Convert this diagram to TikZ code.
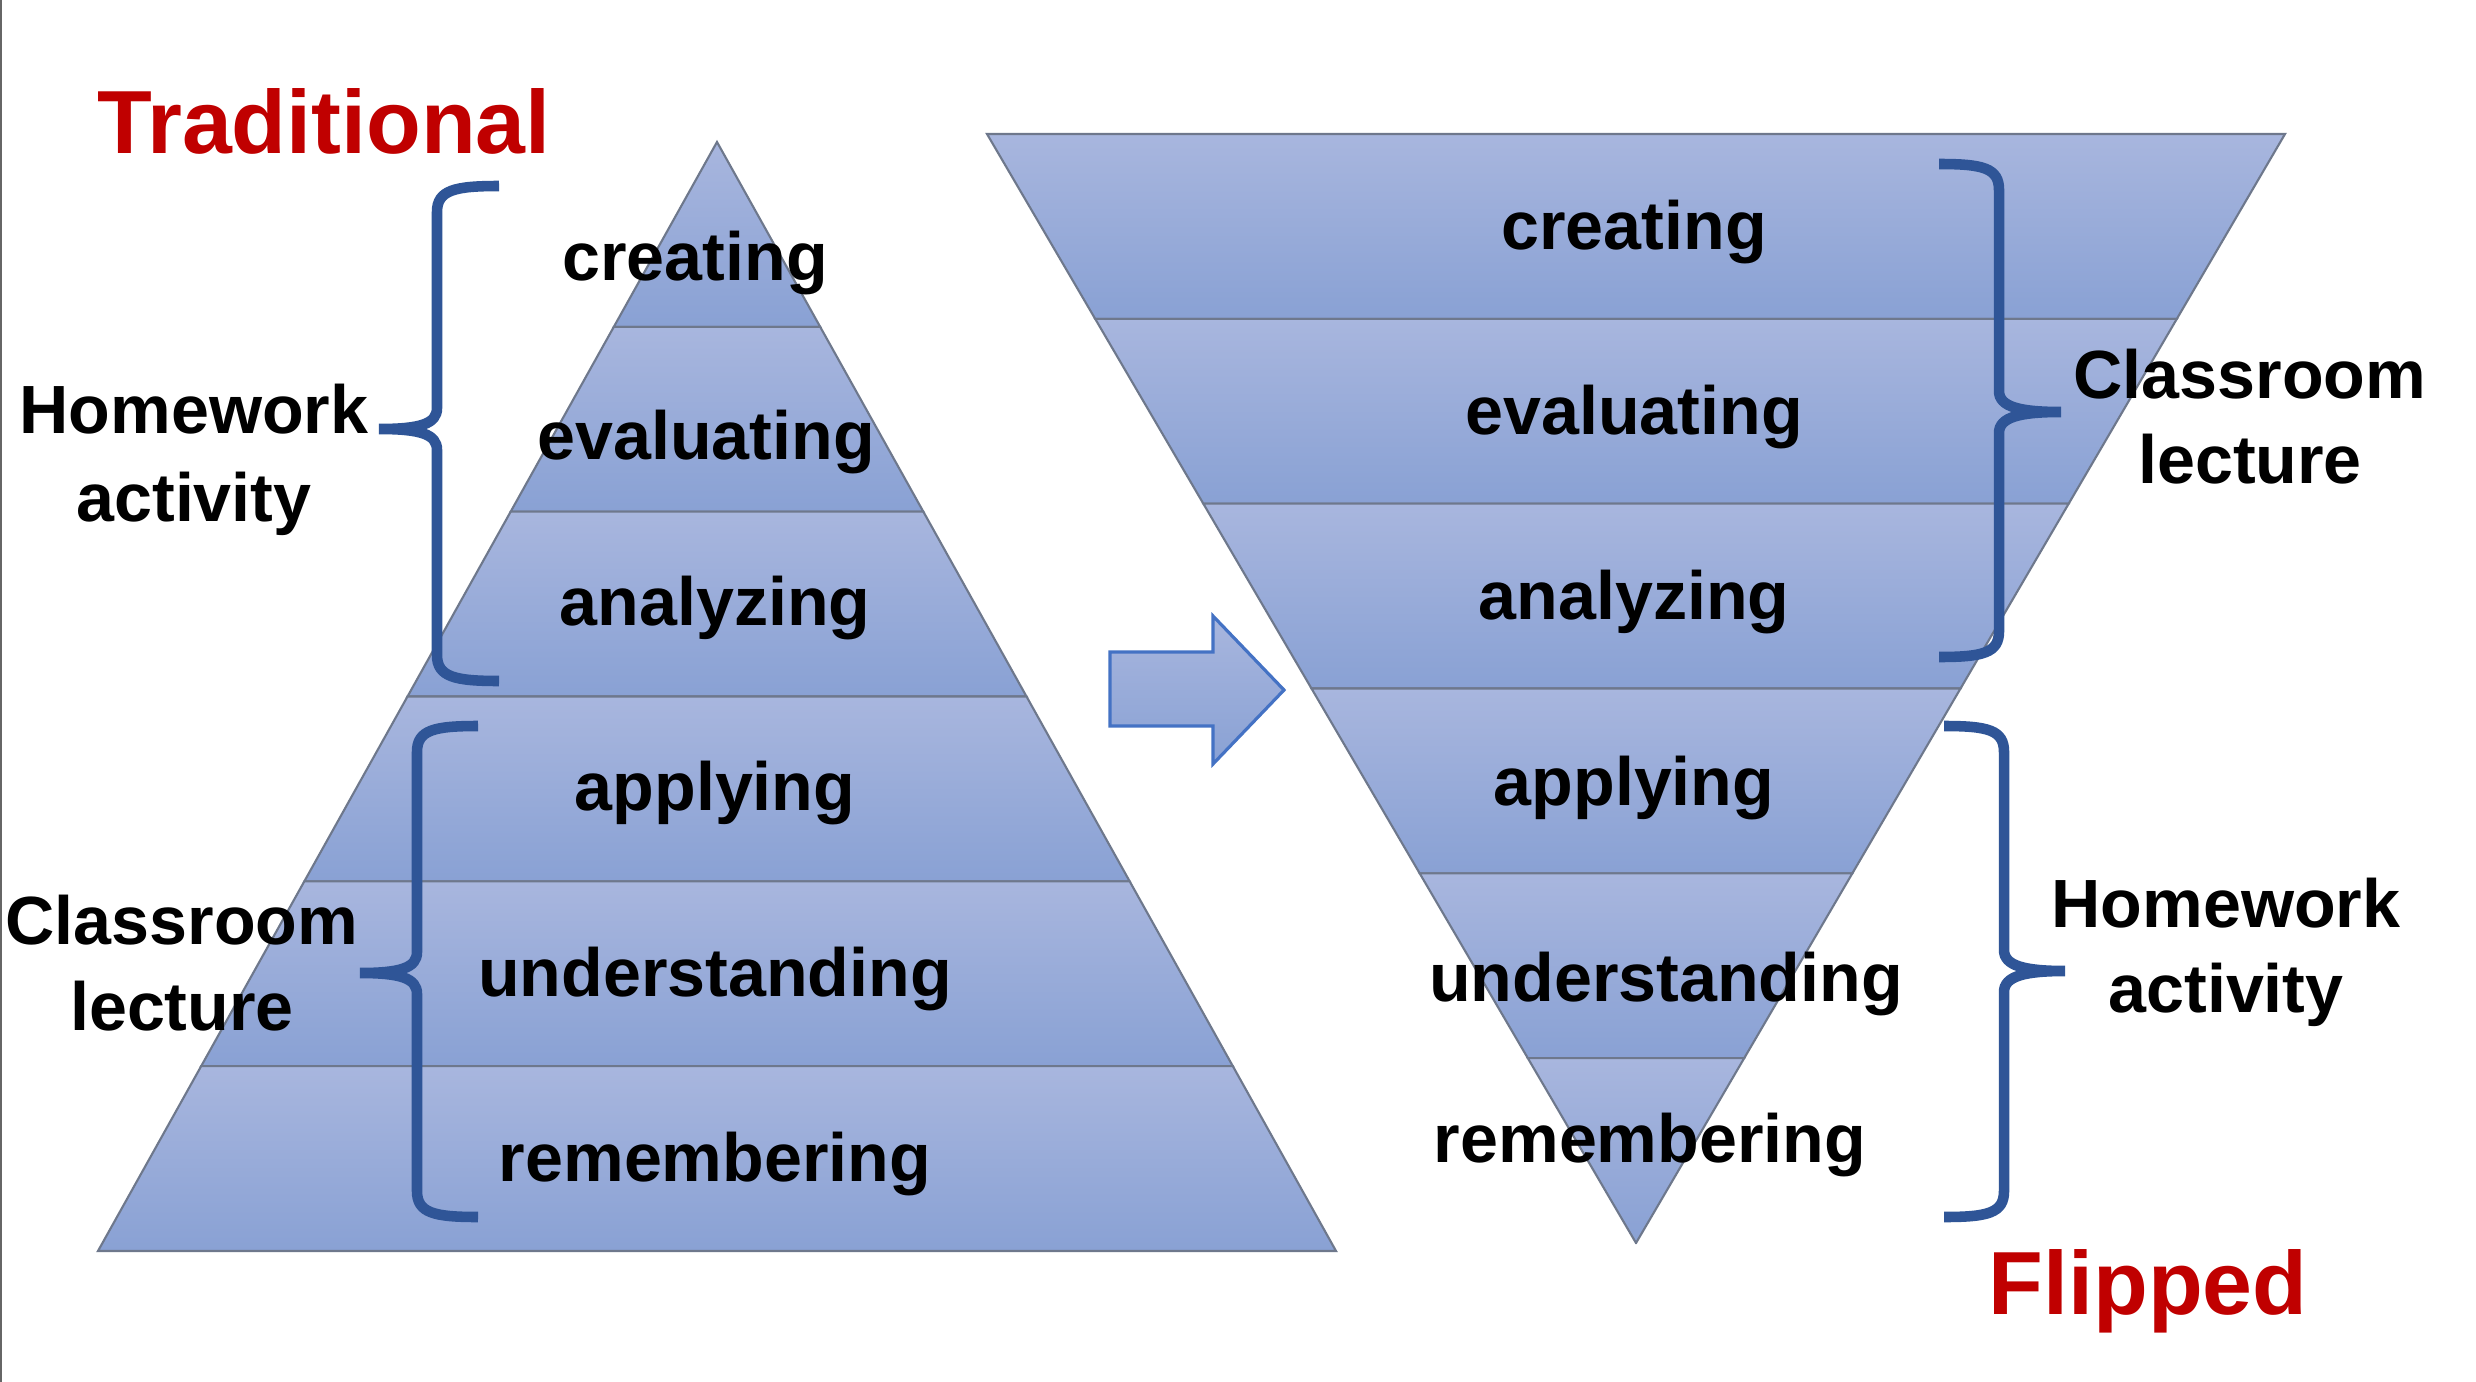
\documentclass[tikz,border=0pt]{standalone}
\usepackage{fontspec}
\setmainfont{Liberation Sans}
\usetikzlibrary{calc}
\definecolor{laytop}{RGB}{168,182,222}
\definecolor{laybot}{RGB}{137,161,212}
\definecolor{layedge}{RGB}{110,120,140}
\definecolor{bracecol}{RGB}{47,85,151}
\definecolor{titlered}{RGB}{192,0,0}
\definecolor{arrowedge}{RGB}{68,114,196}
\begin{document}
\begin{tikzpicture}[x=0.01cm,y=-0.01cm,
  lbl/.style={font=\fontsize{19.4}{23}\selectfont\bfseries, anchor=base, inner sep=0pt},
  ttl/.style={font=\fontsize{25.5}{30}\selectfont\bfseries, text=titlered, anchor=base, inner sep=0pt},
  layer/.style={top color=laytop, bottom color=laybot, draw=layedge, line width=0.6pt},
  bracestyle/.style={draw=bracecol, line width=3pt, line cap=butt}]
\useasboundingbox (0,0) rectangle (2476,1382);
\fill[white] (0,0) rectangle (2476,1382);
\draw[gray!80!black, line width=0.8pt] (1,0) -- (1,1382);

% left pyramid
\foreach \i in {0,...,5}{
  \pgfmathsetmacro{\ya}{142+184.83*\i}
  \pgfmathsetmacro{\yb}{\ya+184.83}
  \pgfmathsetmacro{\ha}{0.55816*(\ya-142)}
  \pgfmathsetmacro{\hb}{0.55816*(\yb-142)}
  \shadedraw[layer] (717-\ha,\ya) -- (717+\ha,\ya) -- (717+\hb,\yb) -- (717-\hb,\yb) -- cycle;
}
% right inverted pyramid
\foreach \i in {0,...,5}{
  \pgfmathsetmacro{\ya}{134+184.83*\i}
  \pgfmathsetmacro{\yb}{\ya+184.83}
  \pgfmathsetmacro{\ha}{0.58521*(1243-\ya)}
  \pgfmathsetmacro{\hb}{0.58521*(1243-\yb)}
  \shadedraw[layer] (1636-\ha,\ya) -- (1636+\ha,\ya) -- (1636+\hb,\yb) -- (1636-\hb,\yb) -- cycle;
}

% arrow
\shadedraw[top color=laytop, bottom color=laybot, draw=arrowedge, line width=0.9pt]
  (1110,652) -- (1213,652) -- (1213,616) -- (1284,690) -- (1213,764) -- (1213,726) -- (1110,726) -- cycle;

% braces left
\draw[bracestyle] (499,186) .. controls (455,186) and (437,190) .. (437,212) -- (437,408)
  .. controls (437,424) and (420,429) .. (379,429)
  .. controls (420,429) and (437,434) .. (437,450) -- (437,655)
  .. controls (437,677) and (455,681) .. (499,681);
\draw[bracestyle] (478,726) .. controls (434,726) and (417,730) .. (417,752) -- (417,952)
  .. controls (417,968) and (400,973) .. (360,973)
  .. controls (400,973) and (417,978) .. (417,994) -- (417,1191)
  .. controls (417,1213) and (434,1217) .. (478,1217);
% braces right
\draw[bracestyle] (1939,164) .. controls (1983,164) and (1999,168) .. (1999,190) -- (1999,391)
  .. controls (1999,407) and (2020,412) .. (2061,412)
  .. controls (2020,412) and (1999,417) .. (1999,433) -- (1999,631)
  .. controls (1999,653) and (1983,657) .. (1939,657);
\draw[bracestyle] (1944,726) .. controls (1988,726) and (2004,730) .. (2004,752) -- (2004,950)
  .. controls (2004,966) and (2025,971) .. (2065,971)
  .. controls (2025,971) and (2004,976) .. (2004,992) -- (2004,1191)
  .. controls (2004,1213) and (1988,1217) .. (1944,1217);

% titles
\node[ttl] (trad) at (324,153) {Traditional};
\node[ttl] (flip) at (2148,1314) {Flipped};

% left labels
\node[lbl] (lcre) at (695,281) {creating};
\node[lbl] (leva) at (706,459) {evaluating};
\node[lbl] (lana) at (715,625) {analyzing};
\node[lbl] (lapp) at (715,810) {applying};
\node[lbl] (lund) at (715,996) {understanding};
\node[lbl] (lrem) at (715,1181) {remembering};

% right labels
\node[lbl] (rcre) at (1634,249) {creating};
\node[lbl] (reva) at (1634,434) {evaluating};
\node[lbl] (rana) at (1634,619) {analyzing};
\node[lbl] (rapp) at (1634,805) {applying};
\node[lbl] (rund) at (1666,1001) {understanding};
\node[lbl] (rrem) at (1650,1162) {remembering};

% side labels
\node[lbl] (hwl1) at (194,433) {Homework};
\node[lbl] (hwl2) at (194,521) {activity};
\node[lbl] (cll1) at (182,944) {Classroom};
\node[lbl] (cll2) at (182,1030) {lecture};
\node[lbl] (clr1) at (2250,398) {Classroom};
\node[lbl] (clr2) at (2250,483) {lecture};
\node[lbl] (hwr1) at (2226,927) {Homework};
\node[lbl] (hwr2) at (2226,1012) {activity};
\end{tikzpicture}
\end{document}
